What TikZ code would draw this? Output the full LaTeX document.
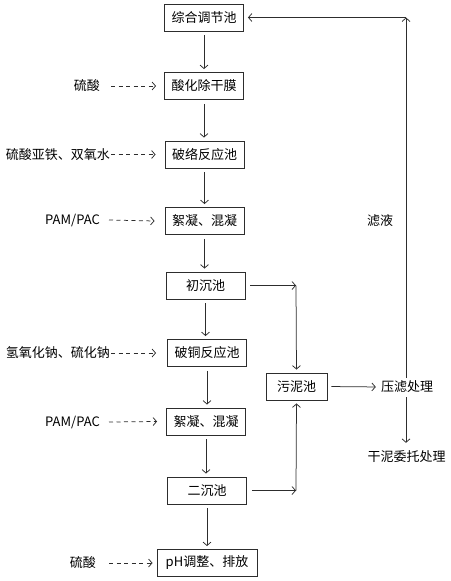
\documentclass[tikz,border=0pt]{standalone}
\usepackage{fontspec}
\setmainfont{Noto Sans CJK SC}
\usetikzlibrary{arrows.meta, positioning}
\definecolor{mydark}{RGB}{45,45,45}
\tikzset{
  tank/.style={rectangle, draw=mydark, line width=0.9pt,
    minimum width=79pt, minimum height=27pt, inner sep=0pt,
    font=\fontsize{13}{13}\selectfont},
  chem/.style={inner sep=0pt, anchor=east, font=\fontsize{13}{13}\selectfont},
  note/.style={inner sep=0pt, font=\fontsize{13}{13}\selectfont},
  arrow/.style={-{Straight Barb[length=3.5pt,width=8pt]}, line width=0.75pt, color=mydark},
  dasharrow/.style={arrow, dash pattern=on 4pt off 3.5pt}
}
\begin{document}
\begin{tikzpicture}[x=1pt, y=-1pt]
  \useasboundingbox (0,0) rectangle (450,581);

  % Main line
  \node[tank] (mix) at (204,17.5) {综合调节池};
  \node[tank] (acidify) at (204,86) {酸化除干膜};
  \node[tank] (breakfe) at (204.5,154.5) {破络反应池};
  \node[tank] (floc1) at (204.5,221) {絮凝、混凝};
  \node[tank] (settle1) at (205.5,285.5) {初沉池};
  \node[tank] (breakcu) at (207,353) {破铜反应池};
  \node[tank] (floc2) at (206,421.5) {絮凝、混凝};
  \node[tank] (settle2) at (207,490.5) {二沉池};
  \node[tank, minimum width=100pt] (outlet) at (207,563) {pH调整、排放};

  % Dosing
  \node[chem] (acid1) at (100,86) {硫酸};
  \node[chem] (fenton) at (110,154.5) {硫酸亚铁、双氧水};
  \node[chem] (pam1) at (100,220) {PAM/PAC};
  \node[chem] (sulfide) at (110,353) {氢氧化钠、硫化钠};
  \node[chem] (pam2) at (100,422) {PAM/PAC};
  \node[chem] (acid2) at (96,563) {硫酸};

  % Sludge line
  \node[tank, minimum width=61pt] (sludge) at (296.5,386.5) {污泥池};
  \node[note] (press) at (407,387) {压滤处理};
  \node[note] (dry) at (406.5,457) {干泥委托处理};
  \node[note] (filtrate) at (380,221) {滤液};
  \coordinate (j1) at (296,285.5);
  \coordinate (j2) at (296,490.5);
  \coordinate (back) at (406,17.5);

  % Flow arrows
  \foreach \a/\b in {mix/acidify, acidify/breakfe, breakfe/floc1, floc1/settle1,
                     settle1/breakcu, breakcu/floc2, floc2/settle2, settle2/outlet}
    \draw[arrow, shorten <=4pt, shorten >=3pt] (\a.south) -- (\a.south |- \b.north);

  \draw[dasharrow] ([xshift=11pt]acid1.east) -- ([xshift=-8pt]acidify.west);
  \draw[dasharrow] ([xshift=1pt]fenton.east) -- ([xshift=-9pt]breakfe.west);
  \draw[dasharrow] ([xshift=9pt]pam1.east) -- ([xshift=-10pt]floc1.west);
  \draw[dasharrow] ([xshift=1pt]sulfide.east) -- ([xshift=-11pt]breakcu.west);
  \draw[dasharrow] ([xshift=9pt]pam2.east) -- ([xshift=-9pt]floc2.west);
  \draw[dasharrow] ([xshift=13pt]acid2.east) -- ([xshift=-4pt]outlet.west);

  \draw[arrow, shorten <=5pt] (settle1.east) -- (j1);
  \draw[arrow, shorten >=3pt] (j1) -- (sludge.north);
  \draw[arrow, shorten <=5pt] (settle2.east) -- (j2);
  \draw[arrow, shorten >=3pt] (j2) -- (sludge.south);
  \draw[arrow, shorten <=4pt, shorten >=5pt] (sludge.east) -- (press.west);
  \draw[arrow, shorten <=4pt, shorten >=8pt] (press.south -| back) -- (dry.north -| back);
  \draw[arrow, shorten <=3pt] (press.north -| back) -- (back);
  \draw[arrow, shorten >=4pt] (back) -- (mix.east);
\end{tikzpicture}
\end{document}
